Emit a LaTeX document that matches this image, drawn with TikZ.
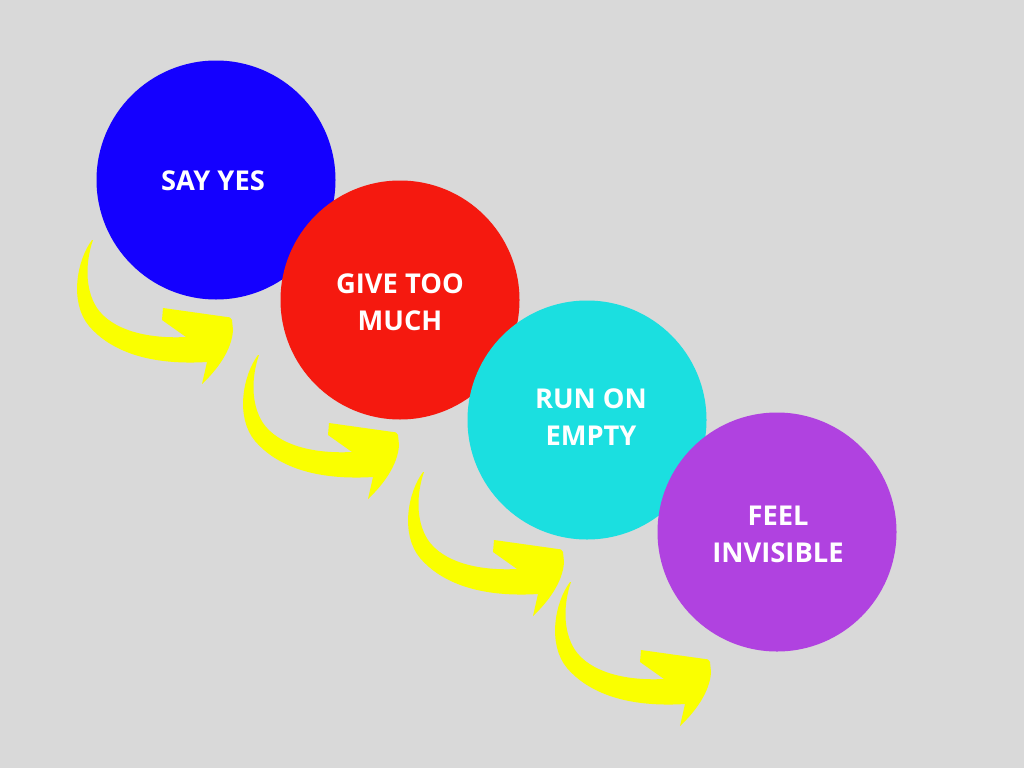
\documentclass[tikz,border=0pt]{standalone}
\usepackage{fontspec}
\setmainfont{Open Sans}
\definecolor{bg}{HTML}{D9D9D9}
\definecolor{cblue}{HTML}{1400FF}
\definecolor{cred}{HTML}{F5190F}
\definecolor{ccyan}{HTML}{1BDFE0}
\definecolor{cpurple}{HTML}{B042E0}
\definecolor{cyellow}{HTML}{FAFF00}
\tikzset{
  bubble/.style={circle,minimum size=239pt,inner sep=0pt},
  label/.style={text=white,font=\fontsize{27.3}{37}\selectfont\bfseries,align=center},
  curvedarrow/.pic={
    \fill[cyellow] (0,0) .. controls (-15,20) and (-23,62) .. (-3,86)
      .. controls (15,107) and (50,126) .. (115,122) -- (110,144)
      .. controls (125,130) and (140,110) .. (141,90) -- (140,80)
      .. controls (139,77) and (137,77) .. (135,77) -- (71,68) -- (70,80)
      -- (94,97) .. controls (55,99) and (20,90) .. (5,68)
      .. controls (-8,48) and (-6,20) .. (1,0) -- cycle;
  }
}
\begin{document}
\begin{tikzpicture}[x=1pt,y=-1pt]
\fill[bg] (0,0) rectangle (1024,768);
\useasboundingbox (0,0) rectangle (1024,768);
\node[bubble,fill=cblue] (c1) at (216,180) {};
\node[bubble,fill=cred] (c2) at (400,300) {};
\node[bubble,fill=ccyan] (c3) at (587,420) {};
\node[bubble,fill=cpurple] (c4) at (777,532) {};
\node[label] (t1) at (213,181) {SAY YES};
\node[label] (t2) at (400,302) {GIVE TOO\\MUCH};
\node[label] (t3) at (591,417) {RUN ON\\EMPTY};
\node[label] (t4) at (778,534) {FEEL\\INVISIBLE};
\pic at (92,240) {curvedarrow};
\pic at (258,355) {curvedarrow};
\pic at (423,472) {curvedarrow};
\pic at (570,582) {curvedarrow};
\end{tikzpicture}
\end{document}
